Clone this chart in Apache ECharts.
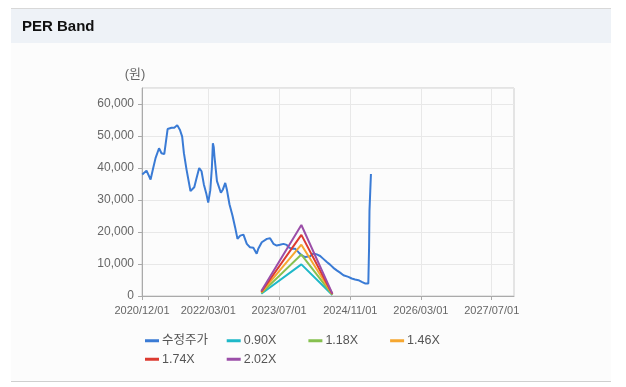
<!DOCTYPE html>
<html>
<head>
<meta charset="utf-8">
<script src="https://cdn.jsdelivr.net/npm/echarts@6/dist/echarts.min.js"></script>
<style>
html,body{margin:0;padding:0;background:#fff;}
#main{width:626px;height:387px;}
</style>
</head>
<body>
<div id="main"></div>
<script>
// ---- data ----
var title = 'PER Band';
var yUnit = '(원)';
var xTickLabels = ['2020/12/01','2022/03/01','2023/07/01','2024/11/01','2026/03/01','2027/07/01'];
var xMin = '2020/12/01';
var xMax = '2027/12/01';
var seriesNames = ['수정주가','0.90X','1.18X','1.46X','1.74X','2.02X'];
var seriesColors = ['#3a7bd5','#1eb8c8','#86c04f','#f6a730','#dc3a30','#9b4ea8'];

var priceDates = [
 '2020/12/03','2021/01/01','2021/01/29','2021/02/16','2021/03/04','2021/03/28','2021/04/14','2021/05/03',
 '2021/05/26','2021/06/22','2021/07/11','2021/07/31','2021/08/19','2021/09/03','2021/09/15','2021/10/03',
 '2021/10/30','2021/11/25','2021/12/11','2021/12/29','2022/01/14','2022/01/30','2022/02/17','2022/03/01',
 '2022/03/15','2022/03/26','2022/04/02','2022/04/08','2022/04/13','2022/04/30','2022/05/27','2022/06/10',
 '2022/06/26','2022/07/07','2022/07/25','2022/08/15','2022/09/02','2022/09/18','2022/10/07','2022/10/29',
 '2022/11/21','2022/12/13','2023/01/05','2023/01/17','2023/01/28','2023/02/08','2023/03/04','2023/04/08',
 '2023/04/30','2023/05/23','2023/06/15','2023/07/07','2023/07/31','2023/08/22','2023/09/03','2023/09/26',
 '2023/10/19','2023/11/11','2023/12/04','2023/12/27','2024/01/30','2024/02/22','2024/03/16','2024/04/08',
 '2024/04/30','2024/05/24','2024/06/15','2024/07/08','2024/07/31','2024/08/23','2024/09/15','2024/10/19',
 '2024/11/11','2024/12/04','2024/12/27','2025/01/19','2025/02/10','2025/03/05','2025/03/10','2025/03/13',
 '2025/03/21','2025/03/23'
];
var priceValues = [
 38000,39180,36400,40000,43080,46180,44630,44320,
 52180,52580,52580,53400,51870,49800,44630,39500,
 32800,34000,36900,40000,38970,34860,31770,29170,
 33000,40000,47730,46500,43600,35880,32260,33310,
 35350,33300,28670,25050,21430,17850,18870,19180,
 16300,15250,15060,14630,13200,14750,16800,17850,
 18040,16300,15770,15990,16300,15990,15250,14750,
 14750,13700,12680,12160,12400,13300,13000,12500,
 11600,10600,9800,8800,8000,7300,6500,5970,
 5470,5160,4950,4420,3920,3920,14750,26600,
 26600,38140
];

var bandDates = ['2023/03/01','2023/12/01','2024/07/01'];
var band090 = [690, 9880, 320];
var band118 = [905, 12960, 420];
var band146 = [1120, 16030, 520];
var band174 = [1335, 19100, 620];
var band202 = [1550, 22180, 720];

// ---- build ----
function toTs(s){ var p = s.split('/'); return Date.UTC(+p[0], +p[1]-1, +p[2]); }
function zip(d, v){ return d.map(function(x,i){ return [toTs(x), v[i]]; }); }
function pad(n){ return (n<10?'0':'')+n; }
function fmtDate(ts){ var d = new Date(ts); return d.getUTCFullYear()+'/'+pad(d.getUTCMonth()+1)+'/'+pad(d.getUTCDate()); }
var tickTs = xTickLabels.map(toTs);

var bands = [band090, band118, band146, band174, band202];
var series = [{
  name: seriesNames[0], type: 'line', data: zip(priceDates, priceValues),
  showSymbol: false, symbol: 'none', lineStyle: {width: 2, color: seriesColors[0]},
  itemStyle: {color: seriesColors[0]}
}];
bands.forEach(function(b, i){
  series.push({
    name: seriesNames[i+1], type: 'line', data: zip(bandDates, b),
    showSymbol: false, symbol: 'none', lineStyle: {width: 2, color: seriesColors[i+1]},
    itemStyle: {color: seriesColors[i+1]}
  });
});

var font = 'Arial, "Liberation Sans", "Noto Sans CJK KR", sans-serif';
// legend: one legend per item, laid out in a 4-column grid
var legends = seriesNames.map(function(n, i){
  var col = i % 4, row = Math.floor(i / 4);
  return {
    data: [n], left: 145 + col * 81.7, top: 334.5 + row * 18.5,
    itemWidth: 14, itemHeight: 3, icon: 'rect', padding: 0,
    textStyle: {color: '#555', fontSize: 12.5, padding: [0, 0, 0, -2]}
  };
});

var chart = echarts.init(document.getElementById('main'), null, {renderer: 'canvas'});
chart.setOption({
  backgroundColor: '#ffffff',
  animation: false,
  textStyle: {fontFamily: font},
  graphic: [
    {type: 'rect', z: -10, shape: {x: 11, y: 8, width: 600, height: 373}, style: {fill: '#fcfcfc'}},
    {type: 'rect', z: -9, shape: {x: 11, y: 9, width: 600, height: 34}, style: {fill: '#eef2f7'}},
    {type: 'line', z: -8, shape: {x1: 11, y1: 8.5, x2: 611, y2: 8.5}, style: {stroke: '#d8d8d8', lineWidth: 1}},
    {type: 'line', z: -8, shape: {x1: 11, y1: 381.5, x2: 611, y2: 381.5}, style: {stroke: '#cfcfcf', lineWidth: 1}},
    {type: 'text', z: 10, left: 22, top: 19, style: {text: title, fill: '#111', font: 'bold 15px ' + font}}
  ],
  grid: {left: 142, right: 112, top: 88, bottom: 91, show: true, borderColor: '#cccccc', borderWidth: 1, backgroundColor: 'transparent'},
  legend: legends,
  xAxis: {
    type: 'value', min: toTs(xMin), max: toTs(xMax),
    axisLine: {lineStyle: {color: '#aaaaaa'}},
    axisTick: {show: true, length: 4, customValues: tickTs, lineStyle: {color: '#aaaaaa'}},
    axisLabel: {customValues: tickTs, color: '#666', fontSize: 11, margin: 9,
      formatter: function(v){ return fmtDate(v); }},
    splitLine: {show: true, lineStyle: {color: '#e8e8e8'}}
  },
  yAxis: {
    type: 'value', min: 0, max: 65000, interval: 10000,
    name: yUnit, nameLocation: 'end', nameGap: 7,
    nameTextStyle: {color: '#666', fontSize: 13, padding: [0, 14, 0, 0]},
    axisLine: {show: true, lineStyle: {color: '#aaaaaa'}},
    axisTick: {show: true, length: 4, lineStyle: {color: '#aaaaaa'}},
    axisLabel: {color: '#666', fontSize: 12, margin: 8, showMaxLabel: false,
      formatter: function(v){ return v.toLocaleString('en-US'); }},
    splitLine: {show: true, lineStyle: {color: '#e8e8e8'}}
  },
  series: series
});
</script>
</body>
</html>
